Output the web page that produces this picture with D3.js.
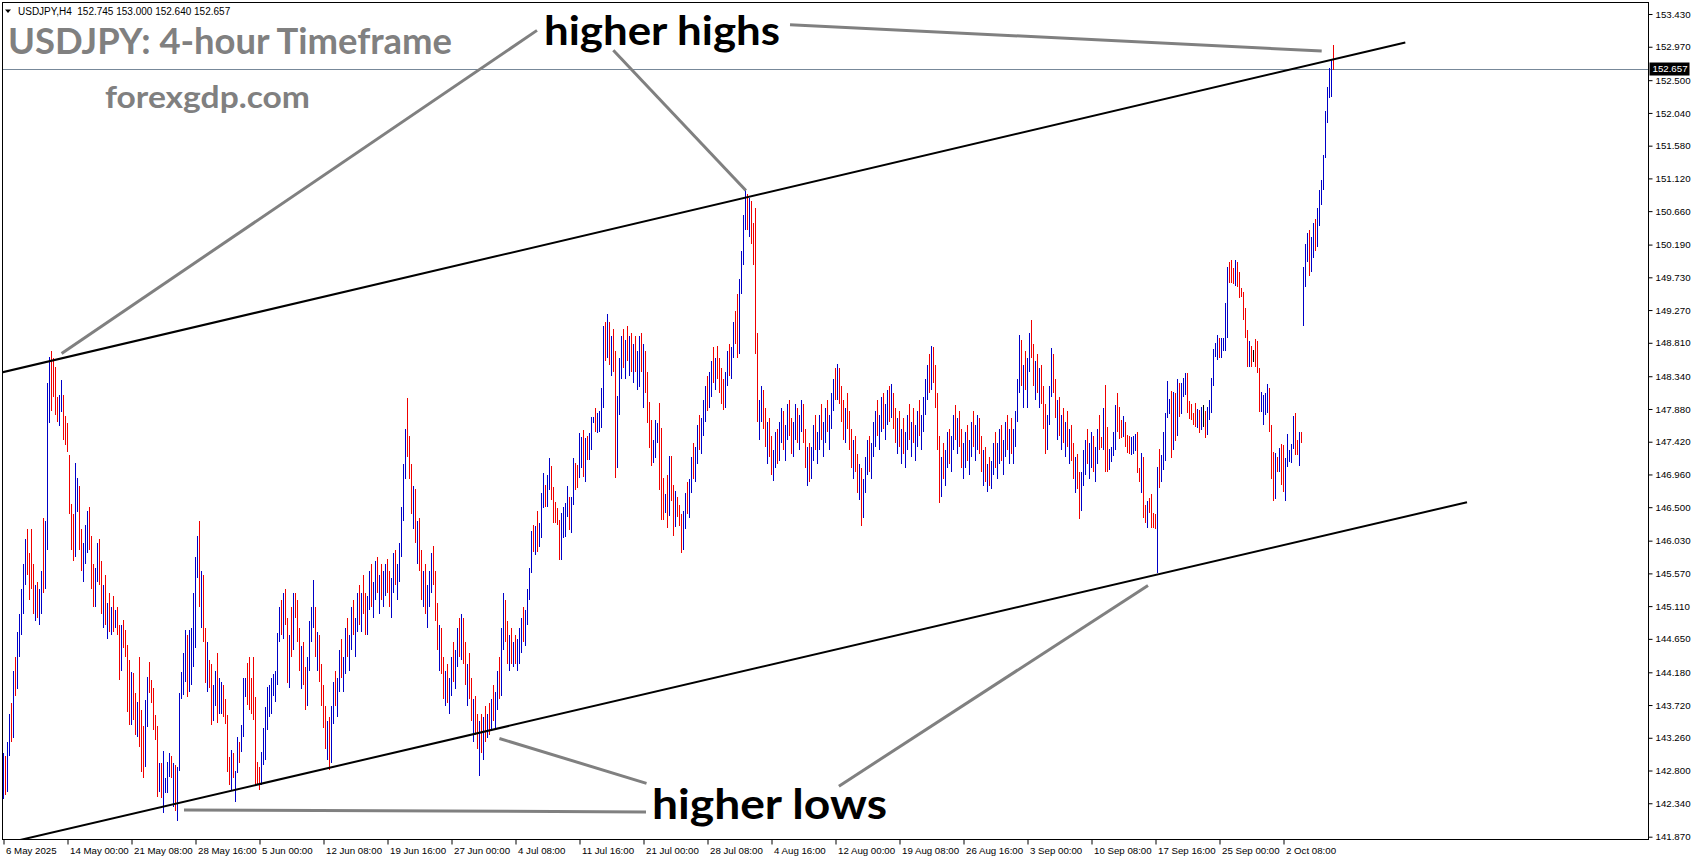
<!DOCTYPE html>
<html><head><meta charset="utf-8">
<script src="https://cdn.jsdelivr.net/npm/d3@7"></script>
<style>
html,body{margin:0;padding:0;background:#fff;}
svg{display:block;}
</style></head><body>
<svg id="chart" width="1695" height="861"></svg>
<script>
// ---- data: USDJPY H4 bars (index = bar number, open = previous close) ----
const highs = [
143.05,143.00,143.20,143.60,143.75,144.20,144.40,144.75,145.00,145.35,
145.70,146.05,146.20,145.85,146.20,145.70,145.40,145.45,145.35,145.60,
146.35,146.30,148.25,148.61,148.70,148.60,148.47,148.05,148.08,148.29,
148.08,147.78,147.68,147.23,146.55,146.40,147.12,146.91,146.80,146.20,
146.00,146.25,146.45,146.50,146.10,145.70,145.65,146.00,146.05,145.75,
145.40,145.55,145.15,145.30,145.10,145.25,145.05,145.10,144.85,144.85,
144.91,144.78,144.56,144.35,144.18,144.17,143.89,143.76,144.40,143.65,
143.43,143.79,144.11,144.32,144.07,143.96,143.58,143.43,142.91,142.91,
143.07,142.70,142.92,143.05,143.00,142.91,142.88,142.85,143.89,144.18,
144.45,144.78,144.70,144.78,144.80,145.30,145.80,146.10,146.30,145.60,
145.55,144.80,144.60,144.35,144.30,144.00,144.20,144.45,144.10,144.05,
144.00,143.80,143.58,142.99,143.09,143.05,142.80,143.27,143.20,143.44,
144.10,144.10,144.31,144.40,144.10,144.40,143.83,142.92,142.85,143.06,
143.40,143.69,143.97,144.00,144.10,144.15,144.20,144.73,145.10,145.20,
145.30,145.35,144.95,144.70,145.10,145.30,145.30,145.20,144.80,144.55,
144.60,144.25,144.40,144.90,145.10,145.47,145.10,144.75,144.70,144.30,
144.00,143.70,143.50,143.55,143.70,144.05,144.20,144.10,144.50,144.65,
144.40,144.80,144.95,144.70,145.10,145.20,144.95,145.30,145.40,145.30,
145.55,145.30,145.25,145.60,145.70,145.45,145.75,145.80,145.55,145.70,
145.60,145.70,145.77,145.60,145.50,145.85,145.90,145.70,146.00,146.50,
147.10,147.60,148.04,147.50,147.10,146.80,146.75,146.30,146.35,145.90,
145.60,145.70,145.40,145.60,145.85,145.96,145.60,145.15,144.85,144.80,
144.40,144.20,144.30,144.10,144.40,144.60,144.50,144.80,144.95,145.00,
144.95,144.60,144.30,144.45,144.10,143.80,143.85,143.60,143.50,143.60,
143.55,143.70,143.60,143.75,143.80,144.00,143.90,144.20,144.40,144.80,
145.30,145.20,144.90,144.70,144.80,144.60,144.70,144.65,144.80,144.95,
145.10,145.05,145.35,145.65,146.16,146.25,146.23,146.45,146.28,146.70,
146.98,146.81,146.95,147.19,147.08,146.78,146.57,146.49,146.32,146.42,
146.50,146.56,146.80,146.64,146.64,147.19,147.12,147.09,147.54,147.49,
147.59,147.47,147.50,147.54,147.77,147.77,147.90,147.83,147.85,148.17,
149.05,149.10,149.22,149.10,148.90,149.00,148.70,148.06,148.60,148.90,
149.00,148.85,149.05,148.90,148.95,148.80,148.90,148.70,148.90,148.95,
148.80,148.70,148.40,147.98,147.72,147.44,147.72,147.68,147.96,147.61,
146.91,146.69,146.95,147.22,147.22,146.81,146.73,146.64,146.53,146.40,
146.45,146.70,146.85,146.90,147.20,147.40,147.35,147.65,147.80,147.75,
148.00,148.20,148.35,148.40,148.55,148.75,148.60,148.77,148.60,148.45,
148.30,148.40,148.70,148.80,148.75,149.10,149.25,149.50,149.70,150.10,
150.60,150.95,150.90,150.85,150.80,150.50,150.70,148.95,148.00,148.20,
148.15,147.90,147.70,147.75,147.50,147.30,147.55,147.60,147.70,147.90,
147.85,147.65,147.95,148.00,147.75,147.70,147.95,147.90,147.80,148.00,
147.95,147.60,147.35,147.40,147.35,147.65,147.80,147.55,147.80,147.95,
147.70,147.90,148.00,147.80,148.10,148.30,148.45,148.51,148.45,148.20,
148.00,147.90,148.10,147.85,147.60,147.45,147.50,147.25,147.10,147.05,
146.90,147.20,147.45,147.50,147.40,147.70,147.85,148.00,147.80,148.05,
148.10,147.95,148.15,148.20,148.23,148.10,147.90,147.75,147.85,147.60,
147.75,147.55,147.80,147.95,147.70,147.90,147.65,147.85,148.00,147.80,
148.05,148.30,148.50,148.65,148.77,148.75,148.50,148.10,147.50,147.20,
147.40,147.30,147.55,147.60,147.50,147.80,147.94,147.75,147.85,147.60,
147.40,147.55,147.65,147.45,147.70,147.85,147.65,147.80,147.75,147.50,
147.30,147.35,147.10,147.20,147.15,147.40,147.55,147.40,147.60,147.65,
147.45,147.70,147.80,147.60,147.75,147.60,147.85,148.30,148.92,148.85,
148.50,148.70,148.60,148.95,149.13,148.80,148.55,148.65,148.45,148.50,
148.20,147.95,147.80,148.20,148.74,148.65,148.30,148.00,148.05,147.80,
147.90,147.70,147.85,147.60,147.65,147.40,147.20,147.25,147.00,147.00,
147.30,147.45,147.60,147.40,147.55,147.50,147.35,147.60,147.80,147.49,
147.89,148.22,147.63,147.32,147.35,147.56,147.94,148.10,147.91,147.72,
147.78,147.70,147.51,147.50,147.49,147.50,147.53,147.56,147.05,147.26,
147.20,146.53,146.58,146.63,146.69,146.42,146.40,147.06,147.32,147.23,
147.56,147.82,148.27,148.02,148.13,148.12,148.10,148.30,148.25,148.25,
148.31,148.39,148.39,147.99,147.95,147.83,147.96,147.88,147.86,147.91,
147.94,147.85,147.91,148.00,148.31,148.72,148.81,148.92,148.88,148.88,
148.88,149.37,149.88,149.94,149.97,149.86,149.97,149.95,149.81,149.58,
149.53,149.30,148.99,148.83,148.76,148.71,148.86,148.83,148.45,148.12,
148.08,148.10,148.23,148.18,147.66,147.28,147.26,147.21,147.33,147.39,
147.37,147.19,147.53,147.30,147.39,147.78,147.82,147.44,147.56,147.56,
149.88,150.20,150.35,150.40,150.30,150.50,150.55,150.70,150.95,151.10,
151.45,152.07,152.40,152.67,152.80,153.00
];
const lows = [
142.40,142.45,142.50,143.00,143.20,143.25,143.85,143.95,144.40,144.70,
145.00,145.40,145.55,145.20,145.35,145.00,144.90,144.95,144.85,145.00,
145.30,145.35,145.90,147.68,147.85,148.05,147.80,147.70,147.64,147.84,
147.44,147.37,147.28,146.40,145.90,145.75,145.80,146.43,145.90,145.60,
145.45,145.70,145.85,145.90,145.35,145.10,145.10,145.45,145.40,145.00,
144.80,144.85,144.65,144.75,144.70,144.75,144.80,144.70,144.07,144.20,
144.52,144.40,143.62,143.44,143.44,143.51,143.30,143.27,143.13,142.78,
142.70,142.85,143.41,143.89,143.75,143.37,143.23,142.43,142.50,142.41,
142.20,142.49,142.49,142.71,142.70,142.29,142.23,142.09,142.80,143.80,
143.86,144.04,143.83,143.90,144.00,144.25,144.52,145.50,145.10,144.80,
144.60,144.03,143.90,143.96,143.44,143.50,143.70,143.47,143.60,143.60,
143.55,143.45,142.78,142.60,142.53,142.70,142.36,142.77,142.90,143.06,
143.27,143.83,143.72,143.65,143.60,143.51,142.60,142.60,142.53,142.60,
142.88,142.95,143.37,143.55,143.60,143.85,143.76,144.00,144.60,144.70,
144.65,144.85,144.03,143.96,144.40,144.50,144.95,144.60,144.20,143.95,
144.00,143.65,143.70,144.20,144.60,144.80,144.40,144.20,144.05,143.70,
143.40,143.10,142.95,142.81,142.90,143.45,143.70,143.55,143.90,144.10,
143.90,144.15,144.40,144.20,144.50,144.70,144.40,144.75,144.85,144.75,
145.00,144.70,144.70,145.05,145.10,144.95,145.20,145.30,145.00,145.20,
145.10,145.25,145.30,145.10,144.95,145.30,145.40,145.20,145.45,145.80,
146.30,146.90,147.20,146.90,146.40,146.20,146.00,145.70,145.60,145.20,
145.10,145.00,144.80,145.10,145.30,145.40,144.90,144.50,144.20,144.15,
143.80,143.70,143.75,143.60,143.85,144.05,143.95,144.25,144.40,144.35,
144.30,144.00,143.70,143.80,143.50,143.20,143.30,143.10,142.72,143.05,
142.95,143.20,143.25,143.30,143.35,143.50,143.40,143.65,143.80,143.85,
144.50,144.60,144.30,144.20,144.30,144.25,144.30,144.20,144.30,144.45,
144.60,144.55,144.85,145.20,145.57,145.87,145.83,145.87,145.94,146.07,
146.49,146.50,146.50,146.74,146.60,146.28,146.28,146.25,145.76,145.76,
146.07,146.08,146.36,146.18,146.14,146.53,146.74,146.77,146.91,147.05,
146.92,146.85,147.16,147.16,147.30,147.68,147.56,147.54,147.55,147.61,
147.90,148.55,148.60,148.50,148.35,148.40,146.91,147.05,147.80,148.30,
148.45,148.30,148.55,148.35,148.40,148.25,148.40,148.15,148.19,148.40,
147.89,148.10,147.68,147.33,147.08,147.12,147.19,147.40,146.74,146.32,
146.32,146.42,146.21,146.38,146.59,146.10,146.22,146.36,146.24,145.85,
145.90,146.20,146.40,146.35,146.70,146.90,146.85,147.10,147.30,147.25,
147.50,147.70,147.85,147.90,148.05,148.25,148.15,148.30,148.10,147.95,
147.86,147.90,148.20,148.35,148.30,148.60,148.80,148.60,148.65,149.50,
149.90,150.40,150.40,150.30,150.20,149.90,148.65,147.70,147.45,147.70,
147.60,147.35,147.10,147.20,146.95,146.87,147.05,147.10,147.15,147.40,
147.30,147.15,147.45,147.50,147.25,147.20,147.45,147.40,147.30,147.55,
147.40,147.05,146.80,146.85,146.90,147.15,147.30,147.10,147.30,147.45,
147.20,147.40,147.55,147.30,147.60,147.85,148.00,148.00,147.95,147.70,
147.45,147.40,147.60,147.30,147.05,146.90,147.00,146.70,146.60,146.23,
146.35,146.70,146.95,147.00,146.90,147.20,147.35,147.50,147.30,147.55,
147.60,147.45,147.65,147.70,147.75,147.60,147.40,147.25,147.35,147.10,
147.25,147.05,147.30,147.45,147.20,147.40,147.15,147.35,147.50,147.30,
147.55,147.80,148.00,148.10,148.15,148.25,147.90,147.30,146.56,146.65,
146.90,146.80,147.05,147.10,147.00,147.30,147.45,147.25,147.35,147.05,
146.90,147.05,147.15,146.95,147.20,147.35,147.15,147.30,147.25,147.00,
146.80,146.85,146.72,146.80,146.75,146.95,147.05,146.90,147.10,147.15,
146.95,147.20,147.30,147.10,147.25,147.10,147.35,147.70,148.10,148.20,
147.90,148.15,147.90,148.40,148.60,148.20,148.00,148.10,147.90,147.95,
147.60,147.25,147.30,147.65,148.05,148.10,147.75,147.45,147.50,147.30,
147.40,147.20,147.35,147.10,147.15,146.90,146.70,146.75,146.34,146.45,
146.80,146.95,147.10,146.90,147.05,147.00,146.85,147.10,147.30,147.33,
147.30,146.99,146.99,147.02,147.13,147.22,147.30,147.56,147.46,147.47,
147.48,147.35,147.26,147.25,147.23,147.25,147.29,146.98,146.85,146.70,
146.35,146.28,146.21,146.42,146.21,146.21,146.20,145.57,146.77,146.85,
147.02,147.15,147.75,147.81,147.19,147.30,147.43,147.50,147.77,147.81,
148.05,148.08,147.82,147.74,147.72,147.66,147.63,147.61,147.54,147.58,
147.63,147.47,147.51,147.72,147.82,148.20,148.61,148.57,148.60,148.60,
148.70,148.69,148.88,149.65,149.65,149.64,149.61,149.60,149.44,149.46,
149.13,148.88,148.47,148.47,148.47,148.54,148.47,148.39,147.84,147.84,
147.65,147.80,147.83,147.56,146.90,146.59,146.62,147.00,147.00,146.81,
146.72,146.59,147.06,147.13,147.12,147.32,147.23,147.23,147.08,147.40,
149.04,149.60,149.95,149.75,149.80,150.00,150.10,150.15,150.45,150.75,
150.95,151.40,151.90,152.25,152.26,152.64
];
const closes = [
142.90,142.55,143.10,143.50,143.30,144.10,144.00,144.65,144.90,145.25,
145.55,145.95,145.70,145.50,145.40,145.10,145.30,145.05,145.25,145.50,
145.40,146.10,148.05,148.40,148.10,148.08,147.90,147.80,148.00,148.20,
147.55,147.45,147.35,146.50,146.05,145.85,146.60,146.80,146.00,145.70,
145.90,146.10,146.35,146.00,145.45,145.25,145.55,145.90,145.50,145.10,
145.30,144.95,145.05,144.85,145.00,144.85,144.90,144.80,144.20,144.75,
144.60,144.50,143.75,143.55,144.05,143.60,143.40,143.65,143.25,142.90,
142.80,143.70,144.00,143.95,143.85,143.45,143.30,142.55,142.85,142.45,
142.60,142.65,142.85,142.95,142.75,142.80,142.30,142.80,143.85,144.10,
144.35,144.70,143.95,144.70,144.75,145.20,145.70,146.00,145.20,145.50,
144.70,144.15,144.40,144.25,143.55,143.90,144.10,143.60,143.70,143.95,
143.65,143.50,142.90,142.70,143.00,142.75,142.78,143.20,143.10,143.40,
144.00,144.05,143.80,143.70,143.65,143.55,142.70,142.65,142.60,143.00,
143.35,143.60,143.90,143.95,144.05,144.10,144.15,144.65,145.00,144.80,
145.20,144.95,144.10,144.60,144.50,145.20,145.10,144.70,144.30,144.45,
144.10,143.80,144.30,144.80,144.95,145.00,144.50,144.65,144.15,143.80,
143.50,143.20,143.40,142.95,143.60,143.95,143.80,144.00,144.40,144.20,
144.30,144.70,144.50,144.60,145.00,144.80,144.85,145.20,144.95,145.25,
145.10,144.80,145.15,145.50,145.20,145.35,145.60,145.40,145.45,145.30,
145.50,145.60,145.40,145.20,145.40,145.75,145.50,145.60,145.90,146.40,
147.00,147.50,147.35,147.00,146.55,146.70,146.10,146.20,145.70,145.30,
145.50,145.10,145.30,145.50,145.75,145.50,145.00,144.60,144.70,144.25,
143.90,144.10,143.85,144.00,144.30,144.15,144.40,144.70,144.50,144.90,
144.40,144.10,144.20,143.90,143.60,143.70,143.40,143.20,143.40,143.15,
143.45,143.30,143.50,143.40,143.70,143.60,143.80,144.10,143.90,144.70,
145.20,144.70,144.40,144.60,144.40,144.50,144.35,144.55,144.70,144.85,
144.70,144.95,145.25,145.60,146.05,145.95,146.15,145.95,146.20,146.60,
146.90,146.60,146.85,147.10,146.70,146.40,146.35,146.30,145.85,146.30,
146.45,146.50,146.70,146.25,146.55,147.10,146.85,146.80,147.45,147.48,
147.00,147.40,147.20,147.50,147.70,147.75,147.60,147.80,147.82,148.10,
148.95,148.70,149.10,148.60,148.80,148.50,147.10,147.95,148.50,148.80,
148.60,148.75,148.65,148.80,148.50,148.70,148.45,148.60,148.80,148.50,
148.55,148.20,147.80,147.45,147.15,147.35,147.65,147.66,146.85,146.45,
146.40,146.60,146.30,147.15,146.70,146.20,146.65,146.45,146.30,145.95,
146.35,146.60,146.50,146.80,147.10,147.00,147.25,147.55,147.40,147.65,
147.90,148.10,147.95,148.30,148.45,148.35,148.50,148.40,148.20,148.05,
147.95,148.30,148.60,148.45,148.70,149.00,148.90,148.70,149.60,150.00,
150.50,150.85,150.50,150.75,150.30,150.00,148.80,147.80,147.90,148.10,
147.70,147.45,147.60,147.30,147.05,147.20,147.45,147.20,147.60,147.80,
147.40,147.55,147.85,147.60,147.35,147.60,147.85,147.50,147.70,147.90,
147.50,147.15,147.25,146.95,147.25,147.55,147.40,147.45,147.70,147.55,
147.60,147.80,147.65,147.70,148.00,148.20,148.10,148.40,148.05,147.80,
147.55,147.80,147.70,147.40,147.15,147.35,147.10,146.80,147.00,146.40,
146.80,147.10,147.35,147.10,147.30,147.60,147.75,147.60,147.70,147.95,
147.70,147.85,148.05,147.80,148.15,147.70,147.50,147.65,147.45,147.50,
147.35,147.45,147.70,147.55,147.60,147.50,147.55,147.75,147.60,147.70,
147.95,148.20,148.40,148.20,148.65,148.35,148.00,147.40,146.70,147.10,
147.00,147.20,147.45,147.20,147.40,147.70,147.55,147.65,147.45,147.15,
147.30,147.45,147.25,147.35,147.60,147.45,147.55,147.70,147.35,147.10,
147.20,146.95,147.00,146.90,147.05,147.30,147.15,147.30,147.50,147.25,
147.35,147.60,147.40,147.50,147.35,147.50,147.75,148.20,148.80,148.30,
148.40,148.25,148.50,148.85,148.70,148.30,148.45,148.20,148.35,148.05,
147.70,147.35,147.70,148.10,148.60,148.20,147.85,147.90,147.60,147.70,
147.50,147.60,147.45,147.50,147.25,147.00,147.10,146.85,146.50,146.90,
147.20,147.35,147.20,147.30,147.45,147.10,147.25,147.50,147.40,147.35,
147.80,147.10,147.05,147.20,147.30,147.50,147.85,147.65,147.55,147.50,
147.70,147.40,147.30,147.28,147.40,147.45,147.50,147.05,146.95,147.20,
146.45,146.35,146.50,146.45,146.30,146.25,146.22,146.95,146.85,147.15,
147.50,147.75,147.95,148.00,147.30,148.05,147.55,148.20,147.85,148.15,
148.25,148.35,147.90,147.80,147.75,147.70,147.65,147.85,147.60,147.85,
147.85,147.55,147.85,147.95,148.25,148.65,148.75,148.85,148.65,148.80,
148.85,149.30,149.85,149.75,149.70,149.68,149.90,149.65,149.55,149.50,
149.20,148.95,148.55,148.75,148.60,148.60,148.55,148.45,147.90,148.05,
148.07,148.08,148.20,147.65,147.00,146.70,147.20,147.05,147.25,146.90,
146.80,147.10,147.20,147.25,147.35,147.70,147.30,147.25,147.50,147.45,
149.80,150.10,150.25,149.85,150.20,150.40,150.20,150.60,150.85,151.00,
151.40,151.95,152.30,152.60,152.745,152.657
];
const firstOpen = 142.60;

// time axis: label text and the bar it sits on
const timeLabels = ["6 May 2025","14 May 00:00","21 May 08:00","28 May 16:00","5 Jun 00:00",
  "12 Jun 08:00","19 Jun 16:00","27 Jun 00:00","4 Jul 08:00","11 Jul 16:00","21 Jul 00:00",
  "28 Jul 08:00","4 Aug 16:00","12 Aug 00:00","19 Aug 08:00","26 Aug 16:00","3 Sep 00:00",
  "10 Sep 08:00","17 Sep 16:00","25 Sep 00:00","2 Oct 08:00"];
const timeLabelBars = [0,32,64,96,128,160,192,224,256,288,320,352,384,416,448,480,512,544,576,608,640];

// price axis labels
const priceTicks = [153.430,152.970,152.500,152.040,151.580,151.120,150.660,150.190,149.730,
  149.270,148.810,148.340,147.880,147.420,146.960,146.500,146.030,145.570,145.110,144.650,
  144.180,143.720,143.260,142.800,142.340,141.870];

// last quote (header): open, high, low, close
const symbol = "USDJPY,H4";
const lastQuote = [152.745, 153.000, 152.640, 152.657];

// channel lines [bar, price]
const upperChannel = [[-1, 148.393], [700.9, 153.03]];
const lowerChannel = [[-1, 141.763], [731.75, 146.57]];

// annotation pointer lines [bar, price] -> [bar, price]
const highPointers = [
  [[266.75, 153.20], [29.05, 148.66]],
  [[304.9, 152.92], [371.2, 150.95]],
  [[393.25, 153.28], [659.1, 152.91]]
];
const lowPointers = [
  [[321.25, 142.218], [90.25, 142.246]],
  [[321.5, 142.62], [247.95, 143.25]],
  [[417.7, 142.58], [572.25, 145.40]]
];

// ---- drawing ----
const svg = d3.select("#chart");
const frame = {left: 2.5, top: 2.5, right: 1648.5, bottom: 839.5};
const x = d3.scaleLinear().domain([0, 665]).range([3.5, 1333.5]);
const y = d3.scaleLinear().domain([141.87, 153.43]).range([836.7, 14]);
const UP = "#0000c8", DOWN = "#f00000";
const axisFont = "'Liberation Sans', Arial, sans-serif";
const axisSize = 9.7;

svg.append("rect").attr("width", 1695).attr("height", 861).attr("fill", "#fff");

svg.append("defs").append("clipPath").attr("id", "plot")
  .append("rect").attr("x", frame.left).attr("y", frame.top)
  .attr("width", frame.right - frame.left).attr("height", frame.bottom - frame.top);

const plot = svg.append("g").attr("clip-path", "url(#plot)");

// last price line
plot.append("line")
  .attr("x1", frame.left).attr("x2", frame.right)
  .attr("y1", Math.round(y(lastQuote[3])) + 0.5).attr("y2", Math.round(y(lastQuote[3])) + 0.5)
  .attr("stroke", "#778899").attr("stroke-width", 1);

// bars
const opens = closes.map((c, i) => i === 0 ? firstOpen : closes[i - 1]);
plot.append("g").attr("shape-rendering", "crispEdges")
  .selectAll("line").data(d3.range(highs.length)).join("line")
  .attr("x1", i => Math.floor(x(i)) + 0.5).attr("x2", i => Math.floor(x(i)) + 0.5)
  .attr("y1", i => y(highs[i])).attr("y2", i => y(lows[i]))
  .attr("stroke", i => closes[i] > opens[i] ? UP : (closes[i] < opens[i] ? DOWN : "#000"))
  .attr("stroke-width", 1);

// channel lines
const line = d3.line().x(d => x(d[0])).y(d => y(d[1]));
plot.selectAll("path.channel").data([upperChannel, lowerChannel]).join("path")
  .attr("class", "channel").attr("d", line)
  .attr("fill", "none").attr("stroke", "#000").attr("stroke-width", 2);

// annotation pointers
svg.append("g").selectAll("path").data(highPointers.concat(lowPointers)).join("path")
  .attr("d", line).attr("fill", "none").attr("stroke", "#808080").attr("stroke-width", 3);

// frame
svg.append("rect").attr("x", frame.left).attr("y", frame.top)
  .attr("width", frame.right - frame.left).attr("height", frame.bottom - frame.top)
  .attr("fill", "none").attr("stroke", "#000").attr("stroke-width", 1);

// price axis
const yAxis = d3.axisRight(y).tickValues(priceTicks).tickFormat(d3.format(".3f"))
  .tickSize(4).tickPadding(3);
const yg = svg.append("g").attr("transform", `translate(${frame.right},0)`).call(yAxis);
yg.select(".domain").remove();
yg.selectAll("text").attr("font-family", axisFont).attr("font-size", axisSize).attr("fill", "#000");
yg.selectAll("line").attr("stroke", "#000");

// last price box
const lpY = y(lastQuote[3]);
svg.append("rect").attr("x", frame.right + 1).attr("y", lpY - 6.5)
  .attr("width", 40).attr("height", 13).attr("fill", "#000");
svg.append("text").attr("x", frame.right + 4).attr("y", lpY).attr("dy", "0.35em")
  .attr("font-family", axisFont).attr("font-size", axisSize).attr("fill", "#fff")
  .text(d3.format(".3f")(lastQuote[3]));

// time axis
const xAxis = d3.axisBottom(x).tickValues(timeLabelBars)
  .tickFormat((d, i) => timeLabels[i]).tickSize(5).tickPadding(3);
const xg = svg.append("g").attr("transform", `translate(0,${frame.bottom})`).call(xAxis);
xg.select(".domain").remove();
xg.selectAll("text").attr("text-anchor", "start").attr("x", 2)
  .attr("font-family", axisFont).attr("font-size", axisSize).attr("fill", "#000");
xg.selectAll("line").attr("stroke", "#000");

// header
svg.append("path").attr("d", "M5,9.5 L11,9.5 L8,13 Z").attr("fill", "#000");
svg.append("text").attr("x", 18).attr("y", 14.5).style("white-space", "pre")
  .attr("font-family", axisFont).attr("font-size", 10).attr("fill", "#000")
  .text(symbol + "  " + lastQuote.map(d3.format(".3f")).join(" "));

// titles
const bigFont = "Lato, 'Open Sans', sans-serif";
svg.append("text").attr("x", 8).attr("y", 54).attr("font-family", bigFont)
  .attr("font-weight", 700).attr("font-size", 36).attr("fill", "#808080")
  .attr("textLength", 444).attr("lengthAdjust", "spacingAndGlyphs")
  .text("USDJPY: 4-hour Timeframe");
svg.append("text").attr("x", 105).attr("y", 108).attr("font-family", bigFont)
  .attr("font-weight", 700).attr("font-size", 31).attr("fill", "#808080")
  .attr("textLength", 205).attr("lengthAdjust", "spacingAndGlyphs")
  .text("forexgdp.com");
svg.append("text").attr("x", 544).attr("y", 45).attr("font-family", bigFont)
  .attr("font-weight", 700).attr("font-size", 41).attr("fill", "#000")
  .attr("textLength", 236).attr("lengthAdjust", "spacingAndGlyphs")
  .text("higher highs");
svg.append("text").attr("x", 652).attr("y", 819).attr("font-family", bigFont)
  .attr("font-weight", 700).attr("font-size", 42).attr("fill", "#000")
  .attr("textLength", 235).attr("lengthAdjust", "spacingAndGlyphs")
  .text("higher lows");
</script>
</body></html>
